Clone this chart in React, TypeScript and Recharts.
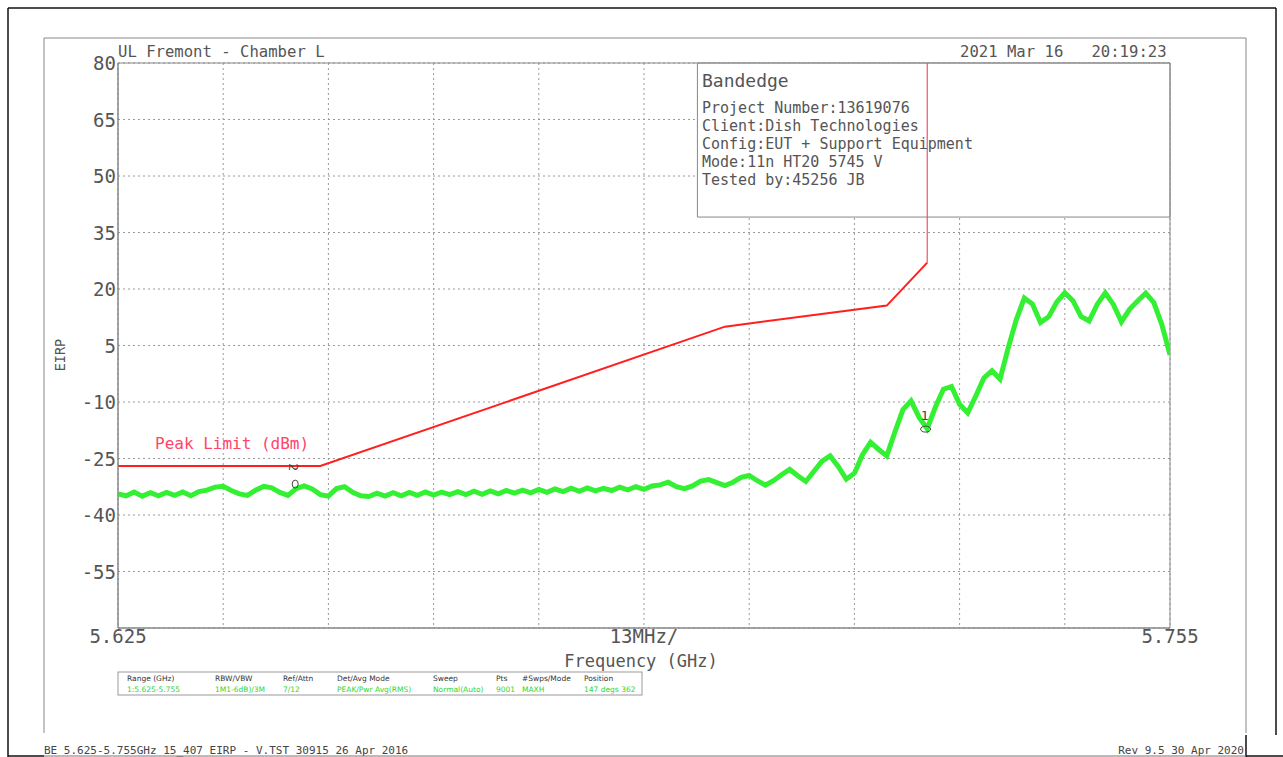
import React from 'react';
import { ComposedChart, Line, XAxis, YAxis, CartesianGrid, ReferenceArea, ReferenceDot } from 'recharts';

// ---- data ----
const traceFreqs = [
  5.625, 5.626, 5.627, 5.628, 5.629, 5.630, 5.631, 5.632, 5.633, 5.634, 5.635,
  5.636, 5.637, 5.638, 5.639, 5.640, 5.641, 5.642, 5.643, 5.644, 5.645,
  5.646, 5.647, 5.648, 5.649, 5.650, 5.651, 5.652, 5.653, 5.654, 5.655,
  5.656, 5.657, 5.658, 5.659, 5.660, 5.661, 5.662, 5.663, 5.664, 5.665,
  5.666, 5.667, 5.668, 5.669, 5.670, 5.671, 5.672, 5.673, 5.674, 5.675,
  5.676, 5.677, 5.678, 5.679, 5.680, 5.681, 5.682, 5.683, 5.684, 5.685,
  5.686, 5.687, 5.688, 5.689, 5.690, 5.691, 5.692, 5.693, 5.694, 5.695,
  5.696, 5.697, 5.698, 5.699, 5.700, 5.701, 5.702, 5.703, 5.704, 5.705,
  5.706, 5.707, 5.708, 5.709, 5.710, 5.711, 5.712, 5.713, 5.714, 5.715,
  5.716, 5.717, 5.718, 5.719, 5.720, 5.721, 5.722, 5.723, 5.724, 5.725,
  5.726, 5.727, 5.728, 5.729, 5.730, 5.731, 5.732, 5.733, 5.734, 5.735,
  5.736, 5.737, 5.738, 5.739, 5.740, 5.741, 5.742, 5.743, 5.744, 5.745,
  5.746, 5.747, 5.748, 5.749, 5.750, 5.751, 5.752, 5.753, 5.754, 5.755,
];
const traceValues = [
  -34.4, -34.9, -33.9, -35.0, -34.1, -34.9, -34.0, -34.8, -33.9, -34.9, -33.8,
  -33.4, -32.6, -32.4, -33.5, -34.4, -34.8, -33.4, -32.4, -32.8, -34.0,
  -34.8, -33.0, -32.3, -33.1, -34.6, -35.0, -33.0, -32.5, -34.0, -34.9,
  -35.1, -34.2, -35.0, -34.1, -34.9, -34.0, -34.8, -33.9, -34.7, -33.9,
  -34.6, -33.8, -34.6, -33.7, -34.5, -33.6, -34.4, -33.5, -34.2, -33.4,
  -34.1, -33.2, -34.0, -33.1, -33.8, -32.9, -33.7, -32.8, -33.6, -32.9,
  -33.5, -32.6, -33.3, -32.5, -33.2, -32.3, -32.0, -31.3, -32.5, -33.0,
  -32.3, -31.0, -30.6, -31.4, -32.2, -31.3, -30.0, -29.5, -30.9, -32.1,
  -30.9, -29.3, -27.9, -29.6, -31.1, -28.4, -25.7, -24.3, -27.1, -30.5,
  -28.9, -24.0, -20.7, -22.6, -24.3, -18.0, -12.0, -9.7, -14.1, -17.1,
  -11.4, -6.6, -5.9, -10.6, -12.9, -8.4, -3.6, -1.7, -3.9, 4.3,
  11.8, 17.6, 16.0, 11.1, 12.6, 16.5, 19.0, 16.9, 12.7, 11.5,
  15.9, 19.0, 15.9, 11.3, 14.6, 16.8, 18.9, 16.4, 10.5, 2.5,
];

const limitFreqs = [5.625, 5.65, 5.7, 5.72, 5.725];
const limitValues = [-27, -27, 10, 15.6, 27];
const edgeFreqs = [5.725, 5.725];
const edgeValues = [27, 80];

const xTicks = [5.625, 5.638, 5.651, 5.664, 5.677, 5.69, 5.703, 5.716, 5.729, 5.742, 5.755];
const xTickLabels = ['5.625', '', '', '', '', '13MHz/', '', '', '', '', '5.755'];
const yTicks = [-70, -55, -40, -25, -10, 5, 20, 35, 50, 65, 80];
const yHiddenTick = -70;

const markerFreqs = [5.7248, 5.6469];
const markerValues = [-17.2, -31.8];
const markerNames = ['1', '2'];

const infoHeaders = ['Range (GHz)', 'RBW/VBW', 'Ref/Attn', 'Det/Avg Mode', 'Sweep', 'Pts', '#Swps/Mode', 'Position'];
const infoValues = ['1:5.625-5.755', '1M1-6dB)/3M', '7/12', 'PEAK/Pwr Avg(RMS)', 'Normal(Auto)', '9001', 'MAXH', '147 degs 362'];
const infoColumnX = [127, 215, 283, 337, 433, 496, 522, 584];

const boxLines = ['Project Number:13619076', 'Client:Dish Technologies', 'Config:EUT + Support Equipment', 'Mode:11n HT20 5745 V', 'Tested by:45256 JB'];

// annotation box extents (data units)
const boxLeftFreq = 5.6966;
const boxBottomValue = 39.1;

const traceData = traceFreqs.map((f, i) => ({ f, v: traceValues[i] }));
const limitData = limitFreqs.map((f, i) => ({ f, v: limitValues[i] }));
const edgeData = edgeFreqs.map((f, i) => ({ f, v: edgeValues[i] }));

const FONT = '"DejaVu Sans Mono", monospace';
const TXT = '#555';

const renderYTick = (p: any) => {
  const v = p.payload.value;
  if (v === yHiddenTick) return <g />;
  return (
    <text x={116} y={p.y} dy={7} textAnchor="end" fontFamily={FONT} fontSize={19} fill={TXT}>
      {String(v)}
    </text>
  );
};

const renderXTick = (p: any) => {
  const idx = xTicks.indexOf(p.payload.value);
  const label = idx >= 0 ? xTickLabels[idx] : '';
  if (!label) return <g />;
  return (
    <text x={p.x} y={643} textAnchor="middle" fontFamily={FONT} fontSize={19} fill={TXT}>
      {label}
    </text>
  );
};

const makeMarker = (i: number) => (p: any) => {
  const cx = p.cx;
  const cy = p.cy;
  if (i === 0) {
    return (
      <g>
        <ellipse cx={cx} cy={cy} rx={5} ry={3} fill="none" stroke="#444" strokeWidth={1} />
        <text x={cx - 1} y={cy - 9} textAnchor="middle" fontFamily={FONT} fontSize={13} fill="#444">
          {markerNames[i]}
        </text>
      </g>
    );
  }
  return (
    <g>
      <ellipse cx={cx} cy={cy} rx={3} ry={4} fill="none" stroke="#444" strokeWidth={1} />
      <text
        x={cx - 2}
        y={cy - 17}
        textAnchor="middle"
        dominantBaseline="central"
        fontFamily={FONT}
        fontSize={13}
        fill="#444"
        transform={`rotate(90 ${cx - 2} ${cy - 17})`}
      >
        {markerNames[i]}
      </text>
    </g>
  );
};

export default function App() {
  return (
    <div style={{ position: 'absolute', left: 0, top: 0, width: 1283, height: 757, background: '#fff' }}>
      <ComposedChart
        width={1283}
        height={757}
        margin={{ top: 63, right: 113, bottom: 0, left: 0 }}
      >
        <CartesianGrid stroke="#9a9a9a" strokeDasharray="2 3" />
        <XAxis
          dataKey="f"
          type="number"
          domain={[5.625, 5.755]}
          ticks={xTicks}
          allowDataOverflow
          height={129}
          tickLine={false}
          axisLine={{ stroke: '#888' }}
          tick={renderXTick}
          interval={0}
        />
        <YAxis
          dataKey="v"
          type="number"
          domain={[-70, 80]}
          ticks={yTicks}
          allowDataOverflow
          width={118}
          tickLine={false}
          axisLine={{ stroke: '#888' }}
          tick={renderYTick}
          interval={0}
        />
        <ReferenceArea
          x1={boxLeftFreq}
          x2={5.755}
          y1={boxBottomValue}
          y2={80}
          fill="#fff"
          fillOpacity={1}
          stroke="#888"
          strokeWidth={1}
          ifOverflow="visible"
        />
        <ReferenceArea x1={5.625} x2={5.755} y1={-70} y2={80} fill="none" stroke="#888" strokeWidth={1} ifOverflow="visible" />
        <Line data={traceData} dataKey="v" type="linear" stroke="#33f033" strokeWidth={5} dot={false} isAnimationActive={false} />
        <Line data={limitData} dataKey="v" type="linear" stroke="#ff1f1f" strokeWidth={2} dot={false} isAnimationActive={false} />
        <Line data={edgeData} dataKey="v" type="linear" stroke="#f0506e" strokeWidth={1.2} dot={false} isAnimationActive={false} />
        {markerFreqs.map((f, i) => (
          <ReferenceDot key={i} x={f} y={markerValues[i]} r={4} shape={makeMarker(i)} ifOverflow="visible" />
        ))}
      </ComposedChart>
      <svg
        width={1283}
        height={757}
        style={{ position: 'absolute', left: 0, top: 0, pointerEvents: 'none' }}
      >
        {/* page frame */}
        <line x1={8} y1={8} x2={1276} y2={8} stroke="#111" strokeWidth={1.5} />
        <line x1={8} y1={8} x2={8} y2={757} stroke="#111" strokeWidth={1.5} />
        <line x1={1276} y1={8} x2={1276} y2={735} stroke="#111" strokeWidth={1.5} />
        <line x1={1246} y1={735} x2={1246} y2={757} stroke="#111" strokeWidth={1.5} />
        <line x1={8} y1={756} x2={44} y2={756} stroke="#111" strokeWidth={1.5} />
        <line x1={1246} y1={756} x2={1283} y2={756} stroke="#111" strokeWidth={1.5} />
        <line x1={44} y1={756} x2={1246} y2={756} stroke="#777" strokeWidth={1} />
        <line x1={44} y1={38} x2={1246} y2={38} stroke="#888" strokeWidth={1} />
        <line x1={44} y1={38} x2={44} y2={733} stroke="#888" strokeWidth={1} />
        <line x1={1246} y1={38} x2={1246} y2={733} stroke="#888" strokeWidth={1} />

        <text x={118} y={57} fontFamily={FONT} fontSize={15.6} fill={TXT}>UL Fremont - Chamber L</text>
        <text x={960} y={57} fontFamily={FONT} fontSize={15.6} fill={TXT} style={{ whiteSpace: 'pre' }}>
          {'2021 Mar 16   20:19:23'}
        </text>

        <text x={702} y={87} fontFamily={FONT} fontSize={18} fill={TXT}>Bandedge</text>
        {boxLines.map((t, i) => (
          <text key={i} x={702} y={113 + i * 18} fontFamily={FONT} fontSize={15} fill={TXT}>
            {t}
          </text>
        ))}

        <text x={155} y={449} fontFamily={FONT} fontSize={16} fill="#ff4468">Peak Limit (dBm)</text>

        <text
          x={60}
          y={355}
          textAnchor="middle"
          fontFamily={FONT}
          fontSize={13.5}
          fill={TXT}
          transform="rotate(-90 60 355)"
          dy={5}
        >
          EIRP
        </text>
        <text x={641} y={667} textAnchor="middle" fontFamily={FONT} fontSize={17} fill={TXT}>Frequency (GHz)</text>

        <rect x={118} y={672} width={524} height={23} fill="none" stroke="#999" strokeWidth={1} />
        {infoHeaders.map((h, i) => (
          <text key={'h' + i} x={infoColumnX[i]} y={681} fontFamily='"DejaVu Sans", sans-serif' fontSize={7.5} fill="#333">
            {h}
          </text>
        ))}
        {infoValues.map((h, i) => (
          <text key={'v' + i} x={infoColumnX[i]} y={692} fontFamily='"DejaVu Sans", sans-serif' fontSize={7.5} fill="#2cd82c">
            {h}
          </text>
        ))}

        <text x={44} y={754} fontFamily={FONT} fontSize={11} fill="#444">
          BE 5.625-5.755GHz 15_407 EIRP - V.TST 30915 26 Apr 2016
        </text>
        <text x={1244} y={754} textAnchor="end" fontFamily={FONT} fontSize={11} fill="#444">
          Rev 9.5 30 Apr 2020
        </text>
      </svg>
    </div>
  );
}
